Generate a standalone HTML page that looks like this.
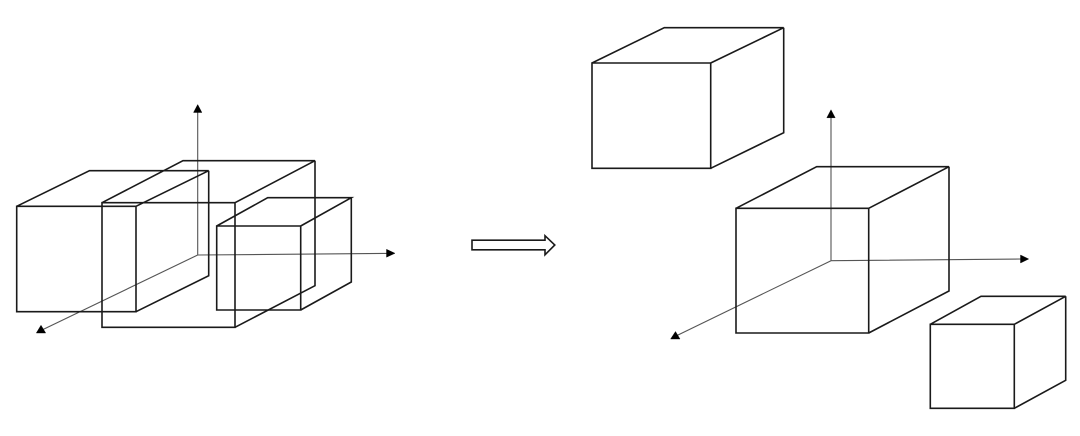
<!DOCTYPE html>
<html>
<head>
<meta charset="utf-8">
<style>
html,body{margin:0;padding:0;background:#fff;width:1080px;height:436px;overflow:hidden}
svg{display:block}
.c{fill:none;stroke:#1a1a1a;stroke-width:1.6;stroke-linejoin:miter}
.a{fill:none;stroke:#555;stroke-width:1.1}
.h{fill:#000;stroke:#000;stroke-width:.4}
</style>
</head>
<body>
<svg width="1080" height="436" viewBox="0 0 1080 436" xmlns="http://www.w3.org/2000/svg">
<rect width="1080" height="436" fill="#fff"/>
<g style="filter:blur(.3px)">
<!-- left axes -->
<path class="a" d="M197.7 255V110M197.7 255L390 253.4M197.7 255L42 330"/>
<path class="h" d="M197.7 104.5L201.9 112.5H193.5Z"/>
<path class="h" d="M395 253.3L386.5 249.3V257.2Z"/>
<path class="h" d="M36.3 333L45.7 333L41 325.2Z"/>

<!-- left cube A -->
<path class="c" d="M16.7 206.3H136V311.7H16.7ZM16.7 206.3L89.5 170.7H208.7L136 206.3M208.7 170.7V275.7L136 311.7"/>
<!-- left cube B -->
<path class="c" d="M102 202.7H235V327.3H102ZM102 202.7L183 160.7H315L235 202.7M315 160.7V285.7L235 327.3"/>
<!-- left cube C -->
<path class="c" d="M216.7 226H300.7V310H216.7ZM216.7 226L267.7 197.7H351.3L300.7 226M351.3 197.7V282L300.7 310"/>

<!-- hollow arrow -->
<path d="M472 240.2H545V235.7L554.8 245L545 254.8V249.8H472Z" fill="#fff" stroke="#1a1a1a" stroke-width="1.6"/>

<!-- top right cube -->
<path class="c" d="M592 63H710.7V168.3H592ZM592 63L664.3 27.7H783.7L710.7 63M783.7 27.7V132.7L710.7 168.3"/>

<!-- right axes -->
<path class="a" d="M831 260.7V115M831 260.7L1023 259M831 260.7L677 335.5"/>
<path class="h" d="M831 109.8L835.2 117.8H826.8Z"/>
<path class="h" d="M1028.7 259L1020.5 255V263Z"/>
<path class="h" d="M670.6 339L680 339L675.5 331.5Z"/>

<!-- main right cube -->
<path class="c" d="M736 208.3H868.7V333H736ZM736 208.3L816.7 166.7H949L868.7 208.3M949 166.7V291L868.7 333"/>
<!-- small right cube -->
<path class="c" d="M930.3 324.3H1014.3V408.3H930.3ZM930.3 324.3L981 296.3H1065.7L1014.3 324.3M1065.7 296.3V380.3L1014.3 408.3"/>
</g>
</svg>
</body>
</html>
